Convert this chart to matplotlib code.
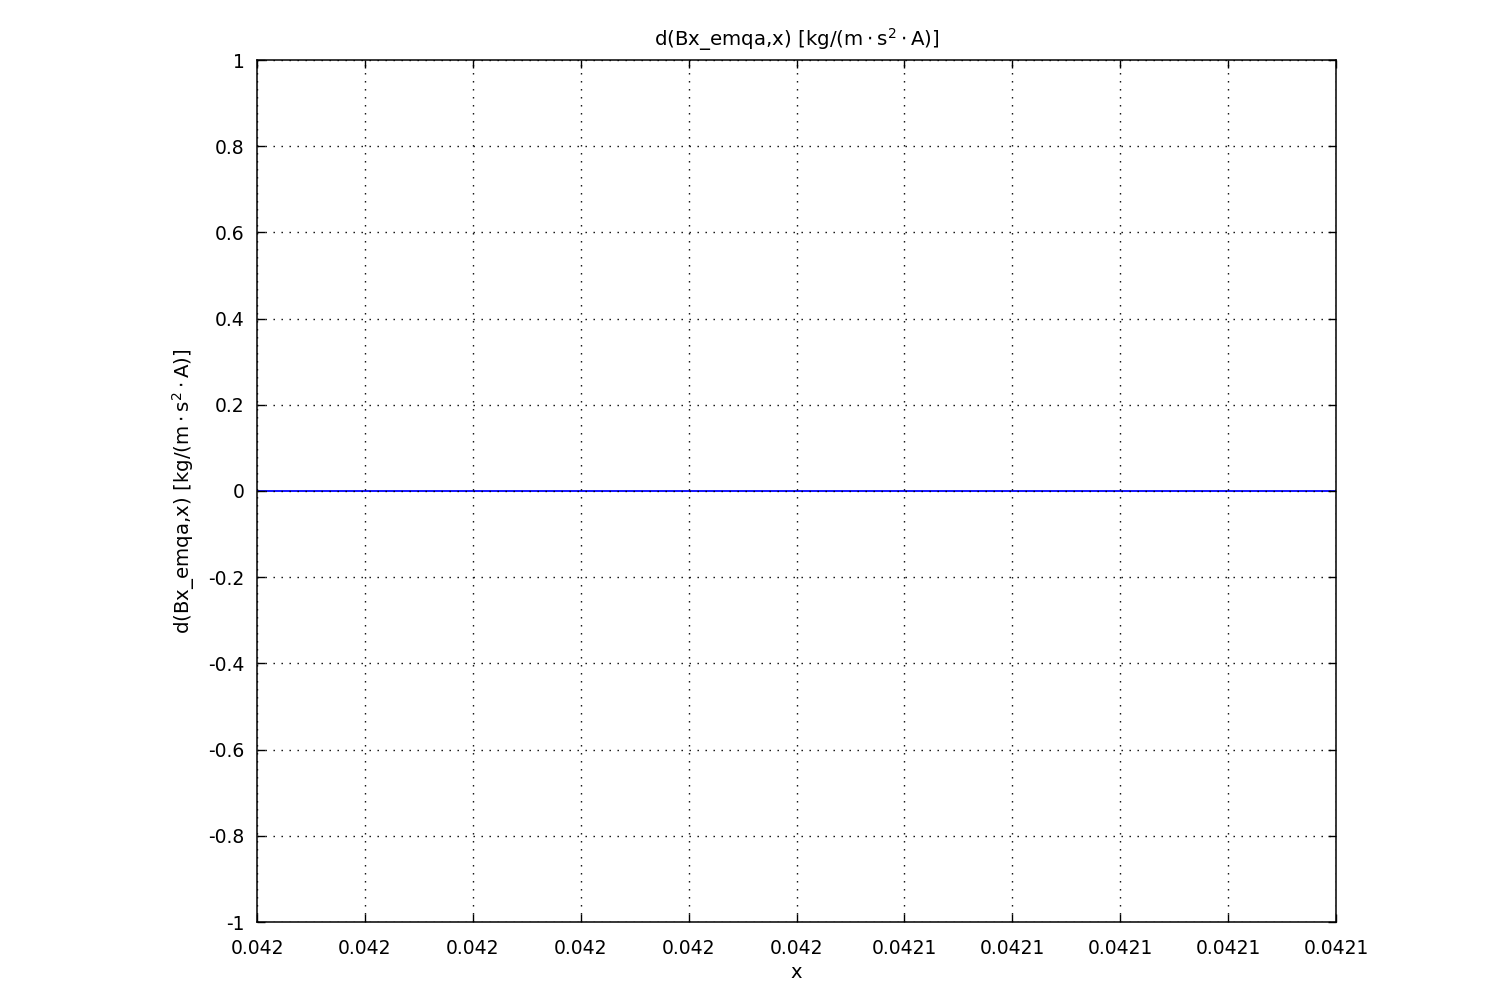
import matplotlib
matplotlib.use("Agg")
import matplotlib.pyplot as plt

# Data
x_values = [0.04200, 0.04210]
y_values = [0.0, 0.0]
x_ticks = [0.04200 + i * 0.00001 for i in range(11)]
x_tick_labels = ["0.042"] * 6 + ["0.0421"] * 5
y_ticks = [-1, -0.8, -0.6, -0.4, -0.2, 0, 0.2, 0.4, 0.6, 0.8, 1]
y_tick_labels = ["-1", "-0.8", "-0.6", "-0.4", "-0.2", "0", "0.2", "0.4", "0.6", "0.8", "1"]
title = "d(Bx_emqa,x) [kg/($\\mathregular{m\\cdot s^{2}\\cdot A}$)]"
xlabel = "x"
ylabel = "d(Bx_emqa,x) [kg/($\\mathregular{m\\cdot s^{2}\\cdot A}$)]"

plt.rcParams['font.family'] = ['DejaVu Sans']
plt.rcParams['mathtext.default'] = 'regular'

fig = plt.figure(figsize=(15, 10), dpi=100)
ax = fig.add_axes([257/1500, 78/1000, 1079/1500, 862/1000])

ax.plot(x_values, y_values, color=(0, 0, 1), lw=1.3, zorder=2)

ax.set_xlim(x_ticks[0], x_ticks[-1])
ax.set_ylim(-1, 1)
ax.set_xticks(x_ticks)
ax.set_xticklabels(x_tick_labels)
ax.set_yticks(y_ticks)
ax.set_yticklabels(y_tick_labels)

ax.set_axisbelow(False)
ax.grid(True, color='black', linestyle=(0, (1, 4.76)), linewidth=1.0)

ax.tick_params(direction='in', length=6, width=1, top=True, right=True,
               labelsize=13.5, colors='black')
ax.tick_params(axis='x', pad=12)
ax.tick_params(axis='y', pad=9)
for s in ax.spines.values():
    s.set_linewidth(1.1)
    s.set_color('black')

ax.set_title(title, fontsize=14.2, pad=10)
ax.set_xlabel(xlabel, fontsize=14, labelpad=4)
ax.set_ylabel(ylabel, fontsize=14.2, labelpad=8)

fig.savefig("out.png", dpi=100, facecolor='white')
